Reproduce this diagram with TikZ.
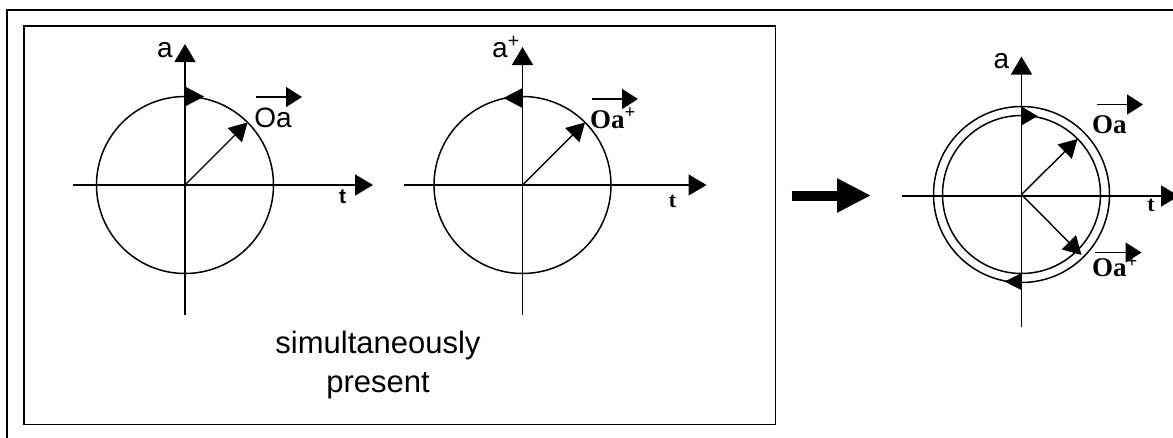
\documentclass[tikz,border=0pt]{standalone}
\usepackage{fontspec}
\setmainfont{Liberation Sans}
\newfontfamily\tnr{Liberation Serif}
\newfontfamily\arl{Liberation Sans}
\newcommand\lblfont{\arl\fontsize{28}{30}\selectfont}
\newcommand\blblfont{\tnr\bfseries\fontsize{27}{30}\selectfont}
\newcommand\tlblfont{\arl\bfseries\fontsize{21}{24}\selectfont}
\newcommand\ttlblfont{\tnr\bfseries\fontsize{22}{24}\selectfont}
\newcommand\simfont{\arl\fontsize{31}{39}\selectfont}
\usetikzlibrary{arrows.meta}
\tikzset{
  axis/.style={line width=1.5pt,-{Triangle[length=18pt,width=21pt]}},
  vec/.style={line width=1.4pt,-{Triangle[length=18pt,width=20pt]}},
  overarr/.style={line width=1.4pt,-{Triangle[length=16pt,width=20pt]}},
  ring/.style={line width=1.5pt},
  lbl/.style={inner sep=0pt,font=\lblfont},
  blbl/.style={inner sep=0pt,font=\blblfont},
  tlbl/.style={inner sep=0pt,font=\tlblfont},
  ttlbl/.style={inner sep=0pt,font=\ttlblfont},
  frame/.style={line width=2.2pt},
  boxline/.style={line width=1.6pt}
}
\begin{document}
\begin{tikzpicture}[x=1pt,y=-1pt]
\useasboundingbox (0,0) rectangle (1173,437);
\fill[white] (0,0) rectangle (1173,437);
\clip (0,0) rectangle (1173,437);
% frames
\draw[frame] (7,1200) -- (7,10) -- (1200,10);
\draw[boxline] (24,26) rectangle (775.5,424.5);
% ---------- diagram 1 ----------
\coordinate (c1) at (185,185);
\coordinate (v1b) at (185,315);
\coordinate (v1t) at (185,44);
\coordinate (h1l) at (73,185);
\coordinate (h1r) at (373,185);
\coordinate (p1) at (247.5,122.5);
\draw[ring] (c1) circle[radius=88.5];
\draw[axis] (v1b) -- (v1t);
\draw[axis] (h1l) -- (h1r);
\draw[vec] (c1) -- (p1);
\fill (c1) ++(0,-98.5) -- ++(19,10) -- ++(-19,10) -- cycle;
\node[lbl,anchor=base] (a1) at (165,57) {a};
\node[lbl,anchor=base] (oa1) at (273,127) {Oa};
\coordinate (oa1l) at (256,97);
\coordinate (oa1r) at (302,97);
\draw[overarr] (oa1l) -- (oa1r);
\node[tlbl,anchor=base] (t1) at (342.5,203) {t};
% ---------- diagram 2 ----------
\coordinate (c2) at (522.5,185);
\coordinate (v2b) at (522.5,315);
\coordinate (v2t) at (522.5,47);
\coordinate (h2l) at (404,185);
\coordinate (h2r) at (706.5,185);
\coordinate (p2) at (585,122.5);
\draw[ring] (c2) circle[radius=88.5];
\draw[axis] (v2b) -- (v2t);
\draw[axis] (h2l) -- (h2r);
\draw[vec] (c2) -- (p2);
\fill (c2) ++(0,-97) -- ++(-19,10) -- ++(19,10) -- cycle;
\node[lbl,anchor=base west] (a2) at (492,57) {a\textsuperscript{+}};
\node[blbl,anchor=base west] (oa2) at (590,128) {Oa\textsuperscript{+}};
\coordinate (oa2l) at (592,99);
\coordinate (oa2r) at (638,99);
\draw[overarr] (oa2l) -- (oa2r);
\node[ttlbl,anchor=base] (t2) at (672.5,207) {t};
% ---------- simultaneously present ----------
\node[inner sep=0pt,align=center,font=\simfont] (sim) at (378,365) {simultaneously\\present};
% ---------- big arrow ----------
\coordinate (ba1) at (791.5,195.5);
\coordinate (ba2) at (871,195.5);
\draw[line width=10pt,-{Triangle[length=34pt,width=32pt]}] (ba1) -- (ba2);
% ---------- diagram 3 ----------
\coordinate (c3) at (1021.5,194.5);
\coordinate (v3b) at (1021.5,327);
\coordinate (v3t) at (1021.5,56.5);
\coordinate (h3l) at (901.5,196);
\coordinate (h3r) at (1179,196);
\coordinate (p3a) at (1077.5,139);
\coordinate (p3b) at (1081.5,255);
\draw[ring] (c3) circle[radius=88];
\draw[ring] (c3) circle[radius=79];
\draw[axis] (v3b) -- (v3t);
\draw[axis] (h3l) -- (h3r);
\draw[vec] (c3) -- (p3a);
\draw[vec] (c3) -- (p3b);
\fill (c3) ++(0,-88) -- ++(16,9.5) -- ++(-16,9.5) -- cycle;
\fill (c3) ++(0,78.5) -- ++(-17,8.5) -- ++(17,8.5) -- cycle;
\node[lbl,anchor=base] (a3) at (1001.5,68) {a};
\node[blbl,anchor=base west] (oa3) at (1092,133) {Oa};
\coordinate (oa3l) at (1097,104.5);
\coordinate (oa3r) at (1143,104.5);
\draw[overarr] (oa3l) -- (oa3r);
\node[blbl,anchor=base west] (oa3p) at (1092,276.5) {Oa\textsuperscript{+}};
\coordinate (oa3pl) at (1095,252.5);
\coordinate (oa3pr) at (1141.5,252.5);
\draw[overarr] (oa3pl) -- (oa3pr);
\node[ttlbl,anchor=base] (t3) at (1151,211) {t};
\end{tikzpicture}
\end{document}
